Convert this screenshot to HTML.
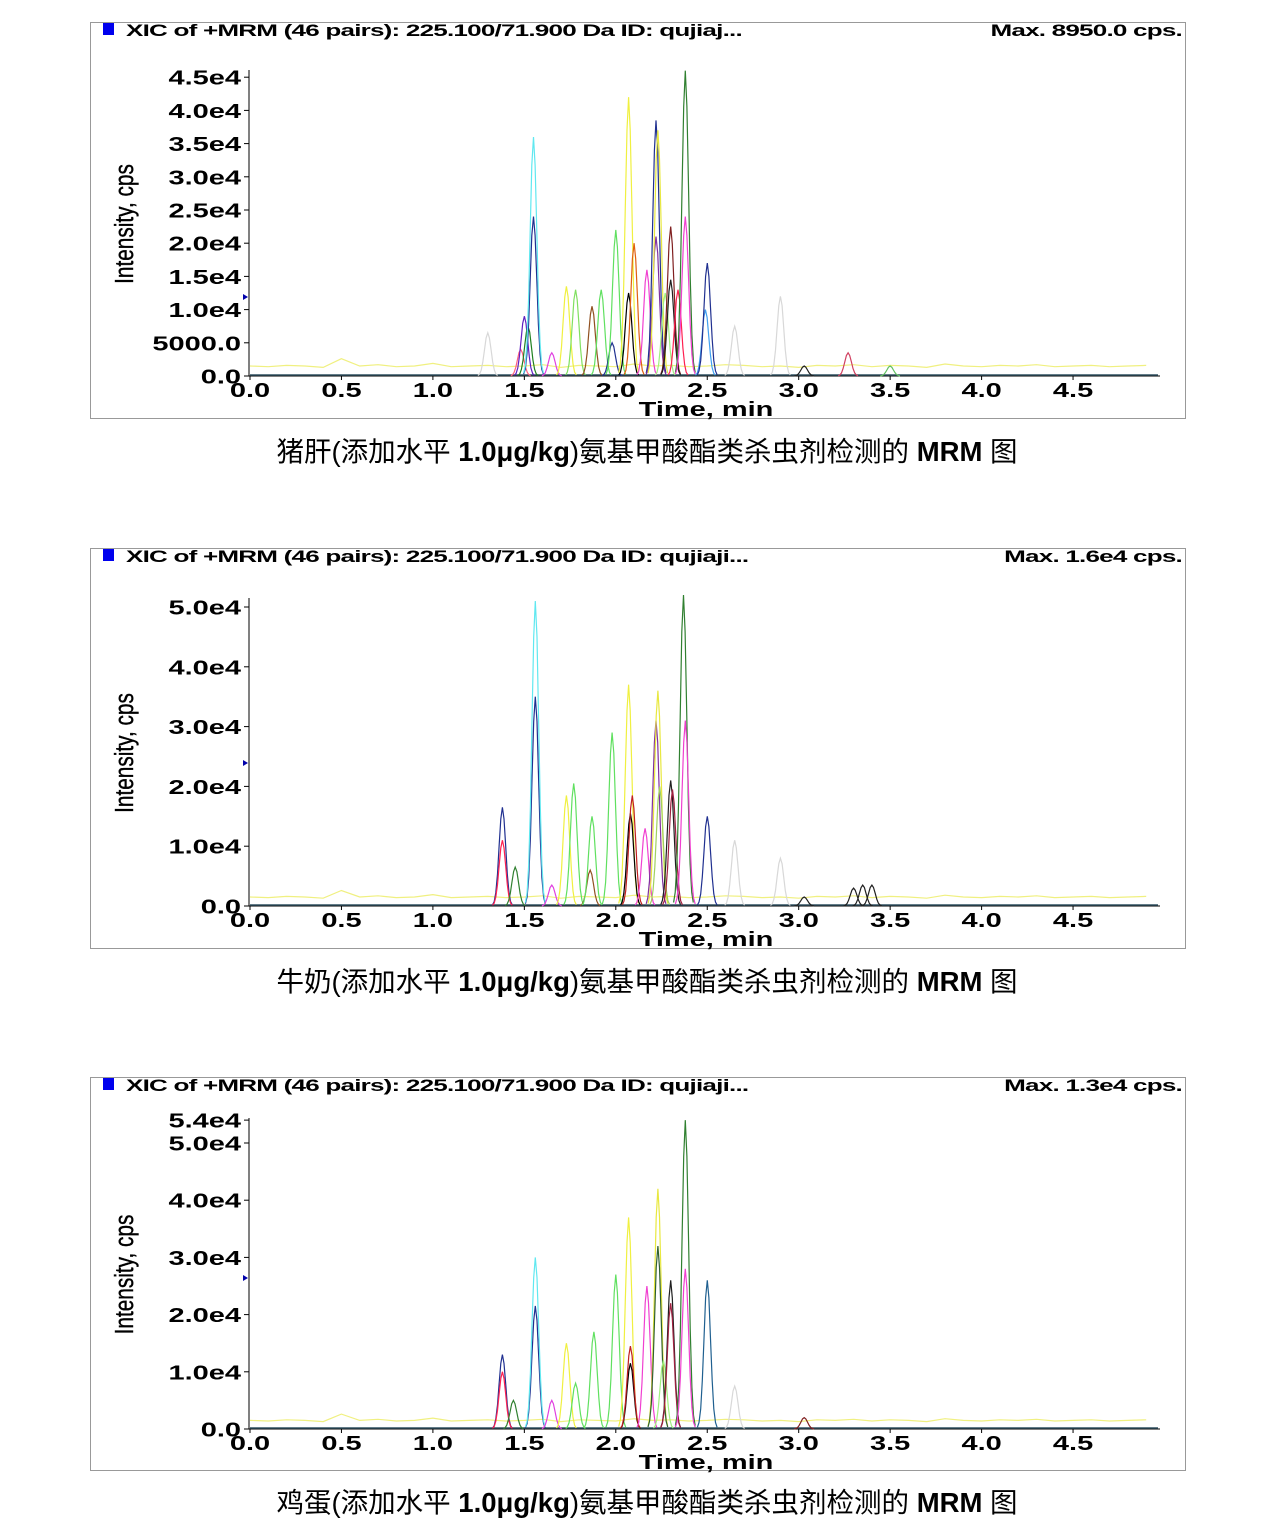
<!DOCTYPE html>
<html><head><meta charset="utf-8"><style>
body{margin:0;background:#fff;width:1284px;height:1539px;overflow:hidden}
svg{position:absolute;left:0;top:0}
text{font-family:"Liberation Sans","Noto Sans CJK SC",sans-serif}
</style></head><body>
<svg id="s" width="1284" height="1539"></svg>
<script>
// Panel 1 (pig liver)
const p1Times=[1.30,1.48,1.50,1.52,1.55,1.55,1.65,1.73,1.78,1.87,1.92,1.98,2.00,2.07,2.07,2.10,2.17,2.22,2.22,2.23,2.27,2.30,2.30,2.34,2.38,2.38,2.49,2.50,2.65,2.90,3.03,3.27,3.50];
const p1Heights=[6500,4000,9000,7500,24000,36000,3500,13500,13000,10500,13000,5000,22000,42000,12500,20000,16000,38500,21000,37000,12500,22500,14500,13000,46000,24000,10000,17000,7500,12000,1500,3500,1500];
const p1Colors=["#d8d8d8","#ff6080","#6020c0","#208020","#203090","#60e8f0","#e040e0","#f0f040","#80e060","#905020","#60e060","#203090","#60e060","#f0f040","#000000","#e06010","#f040d0","#203090","#8030a0","#e8e840","#a0f080","#802020","#202020","#ff2050","#308030","#f040d0","#40a0f0","#203090","#d8d8d8","#d8d8d8","#202020","#d04060","#60c060"];
const p1Ticks=["0.0","5000.0","1.0e4","1.5e4","2.0e4","2.5e4","3.0e4","3.5e4","4.0e4","4.5e4"];
const p1TickVals=[0,5000,10000,15000,20000,25000,30000,35000,40000,45000];
// Panel 2 (milk)
const p2Times=[1.38,1.38,1.45,1.56,1.56,1.65,1.73,1.77,1.86,1.87,1.98,2.07,2.08,2.09,2.16,2.22,2.23,2.24,2.30,2.31,2.37,2.38,2.50,2.65,2.90,3.03,3.30,3.35,3.40];
const p2Heights=[16500,11000,6500,35000,51000,3500,18500,20500,6000,15000,29000,37000,15500,18500,13000,31000,36000,20000,21000,19500,52000,31000,15000,11000,8000,1500,3000,3500,3500];
const p2Colors=["#203090","#ff2050","#308030","#203090","#60e8f0","#e040e0","#f0f040","#60e060","#905020","#60e060","#60e060","#f0f040","#000000","#c02020","#f040d0","#8030a0","#e8e840","#a0d060","#202020","#a02040","#308030","#f040d0","#203090","#d8d8d8","#d8d8d8","#202020","#202020","#202020","#202020"];
const p2Ticks=["0.0","1.0e4","2.0e4","3.0e4","4.0e4","5.0e4"];
const p2TickVals=[0,10000,20000,30000,40000,50000];
// Panel 3 (egg)
const p3Times=[1.38,1.38,1.44,1.56,1.56,1.65,1.73,1.78,1.88,2.00,2.07,2.08,2.08,2.17,2.23,2.23,2.26,2.30,2.30,2.38,2.38,2.50,2.65,3.03];
const p3Heights=[13000,10000,5000,21500,30000,5000,15000,8000,17000,27000,37000,11500,14500,25000,42000,32000,12000,26000,22000,54000,28000,26000,7500,2000];
const p3Colors=["#203090","#ff2050","#308030","#203090","#60e8f0","#e040e0","#f0f040","#60e060","#60e060","#60e060","#f0f040","#000000","#c02020","#f040d0","#e8e840","#306030","#a0f080","#202020","#a02040","#308030","#f040d0","#206090","#d8d8d8","#802020"];
const p3Ticks=["0.0","1.0e4","2.0e4","3.0e4","4.0e4","5.0e4","5.4e4"];
const p3TickVals=[0,10000,20000,30000,40000,50000,54000];
// noise baseline (yellow trace, cps)
const noise=[1500,1400,1600,1500,1300,2600,1500,1700,1400,1500,1900,1400,1500,1600,1400,1500,1700,1300,1600,1500,1400,1800,1500,1600,1400,1500,1700,1600,1400,1500,1300,1600,1500,1700,1400,1600,1500,1300,1800,1500,1400,1600,1500,1700,1400,1500,1600,1400,1500,1600];
const xTicks=["0.0","0.5","1.0","1.5","2.0","2.5","3.0","3.5","4.0","4.5"];
const xTickVals=[0,0.5,1,1.5,2,2.5,3,3.5,4,4.5];

const NS="http://www.w3.org/2000/svg";
const svg=document.getElementById('s');
function mk(tag,attrs,parent,txt){const e=document.createElementNS(NS,tag);for(const k in attrs)e.setAttribute(k,attrs[k]);if(txt!==undefined)e.textContent=txt;(parent||svg).appendChild(e);return e;}

const panels=[
 {top:22,bot:418,y0:376,pxPer:33.2/5000,times:p1Times,h:p1Heights,c:p1Colors,ticks:p1Ticks,tv:p1TickVals,max:"Max. 8950.0 cps.",id:"qujiaj...",pre:"猪肝",capY:461,axTop:70,mark:297,name:"pig-liver"},
 {top:548,bot:948,y0:906,pxPer:59.8/10000,times:p2Times,h:p2Heights,c:p2Colors,ticks:p2Ticks,tv:p2TickVals,max:"Max. 1.6e4 cps.",id:"qujiaji...",pre:"牛奶",capY:991,axTop:598,mark:763,name:"milk"},
 {top:1077,bot:1470,y0:1429,pxPer:57.2/10000,times:p3Times,h:p3Heights,c:p3Colors,ticks:p3Ticks,tv:p3TickVals,max:"Max. 1.3e4 cps.",id:"qujiaji...",pre:"鸡蛋",capY:1512,axTop:1118,mark:1278,name:"egg"}
];
const X=t=>250+182.9*t;

panels.forEach((p,pi)=>{
 const g=mk('g',{});
 
 
 const Y=v=>p.y0-v*p.pxPer;
 const fr=mk('rect',{x:90.5,y:p.top+0.5,width:1095,height:p.bot-p.top,fill:'none',stroke:'#999','stroke-width':1},g);
 
 const lg=mk('rect',{x:103,y:p.top+1,width:11,height:12,fill:'#0000ee'},g);
 
 const tt=mk('text',{x:0,y:0,'font-size':16.5,'font-weight':'bold','letter-spacing':'-0.5',transform:`translate(126,${p.top+14}) scale(1.58,1)`},g,"XIC of +MRM (46 pairs): 225.100/71.900 Da ID: "+p.id);
 
 const mx=mk('text',{x:0,y:0,'font-size':16.5,'font-weight':'bold','text-anchor':'end','letter-spacing':'-0.5',transform:`translate(1182,${p.top+14}) scale(1.58,1)`},g,p.max);
 
 // axes
 mk('line',{x1:249,y1:p.axTop,x2:249,y2:p.y0,stroke:'#000'},g);
 mk('line',{x1:249,y1:p.y0,x2:1160,y2:p.y0,stroke:'#000'},g);
 p.ticks.forEach((lab,i)=>{
  const yy=Y(p.tv[i]);
  mk('line',{x1:244,y1:yy,x2:249,y2:yy,stroke:'#000'},g);
  const t=mk('text',{x:0,y:0,'font-size':20,'font-weight':'bold','text-anchor':'end',transform:`translate(241,${yy+7.5}) scale(1.45,1)`},g,lab);
  
 });
 xTicks.forEach((lab,i)=>{
  const xx=X(xTickVals[i]);
  mk('line',{x1:xx,y1:p.y0,x2:xx,y2:p.y0+4,stroke:'#000'},g);
  const t=mk('text',{x:0,y:0,'font-size':20,'font-weight':'bold','text-anchor':'middle',transform:`translate(${xx},${p.y0+21}) scale(1.45,1)`},g,lab);
  
 });
 const xl=mk('text',{x:0,y:0,'font-size':20,'font-weight':'bold','text-anchor':'middle',transform:`translate(706,${p.y0+40}) scale(1.45,1)`},g,"Time, min");
 
 const yc=(p.axTop+p.y0)/2+1;
 const yl=mk('text',{x:0,y:0,'font-size':26,'text-anchor':'middle',stroke:'#000','stroke-width':0.4,transform:`translate(133,${yc}) rotate(-90) scale(0.8,1)`},g,"Intensity, cps");
 
 mk('path',{d:`M243,${p.mark-3}l5,3l-5,3z`,fill:'#0000aa'},g);
 // noise baseline
 let d='';noise.forEach((v,i)=>{d+=(i?'L':'M')+X(i*0.1).toFixed(1)+','+Y(v).toFixed(1);});
 const nz=mk('path',{d:d,fill:'none',stroke:'#f0f080','stroke-width':1.2},g);
 
 mk('line',{x1:250,y1:p.y0-1,x2:1158,y2:p.y0-1,stroke:'#305060','stroke-width':1.5},g);
 // peaks
 p.times.forEach((t,i)=>{
  const h=p.h[i],w=0.018;
  let pd='';
  for(let k=-6;k<=6;k++){const tt2=t+k*w/2;const v=h*Math.exp(-(k*k)/8);pd+=(k==-6?'M':'L')+X(tt2).toFixed(1)+','+Y(v).toFixed(1);}
  const pk=mk('path',{d:pd,fill:'none',stroke:p.c[i],'stroke-width':1.2},g);
  
 });
 const cp=mk('text',{x:647,y:p.capY,'font-size':27.5,'text-anchor':'middle'},svg);
 
 mk('tspan',{},cp,p.pre+"(添加水平 ");
 mk('tspan',{'font-weight':'bold'},cp,"1.0μg/kg");
 mk('tspan',{},cp,")氨基甲酸酯类杀虫剂检测的 ");
 mk('tspan',{'font-weight':'bold'},cp,"MRM");
 mk('tspan',{},cp," 图");
});
</script>
</body></html>
